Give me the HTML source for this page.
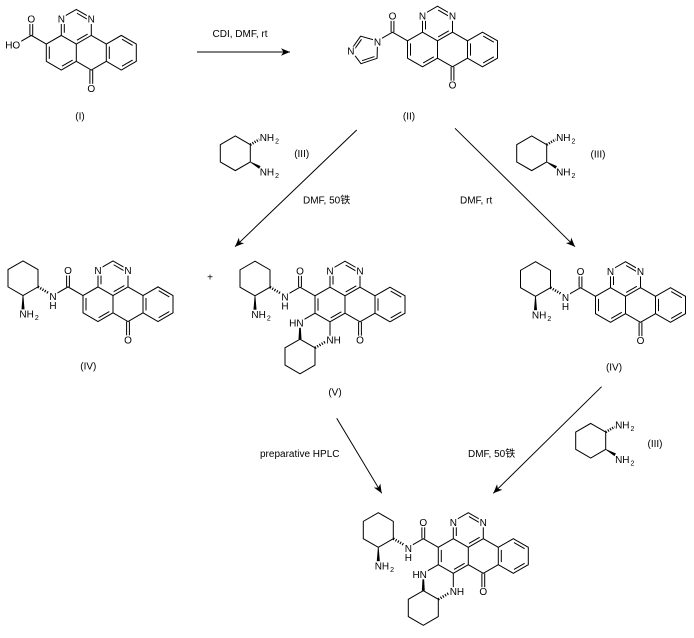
<!DOCTYPE html>
<html><head><meta charset="utf-8">
<style>
html,body{margin:0;padding:0;background:#fff}
svg{display:block}
text{font-family:"Liberation Sans","Noto Sans CJK SC",sans-serif;font-size:10px;fill:#000}
</style></head>
<body>
<svg width="694" height="638" viewBox="0 0 694 638" xmlns="http://www.w3.org/2000/svg">
<defs>
<marker id="ah" markerUnits="userSpaceOnUse" markerWidth="12" markerHeight="12" viewBox="-10 -6 12 12" refX="0" refY="0" orient="auto">
<path d="M0,0 L-9,-3.8 L-6.5,0 L-9,3.8 Z" fill="#000"/>
</marker>
<g id="core" fill="none" stroke="#000" stroke-width="1">
<path d="M0,-17.32 L15,-8.66 L15,8.66 L0,17.32 L-15,8.66 L-15,-8.66 Z M0,-17.32 L0,-34.64 L15,-43.3 L30,-34.64 L30,-17.32 L15,-8.66 M30,-17.32 L45,-8.66 L45,8.66 L30,17.32 L15,8.66 M45,-8.66 L60,-17.32 L75,-8.66 L75,8.66 L60,17.32 L45,8.66 M28.6,17.32 L28.6,34.64 M31.4,17.32 L31.4,34.64 M-15,-8.66 L-30,-17.32 L-45,-8.66 M-31.4,-17.32 L-31.4,-34.64 M-28.6,-17.32 L-28.6,-34.64 M3,-20 L3,-32 M15.67,-39.45 L26.33,-33.29 M26.33,-18.67 L15.67,-12.51 M11.33,7.31 L0.67,13.47 M-12,6.16 L-12,-6.16 M48,-6.16 L48,6.16 M60.67,-13.47 L71.33,-7.31 M71.33,7.31 L60.67,13.47"/>
</g>
<g id="r1">
<path d="M-75,-43.3 L-60,-34.64 L-60,-17.32 L-75,-8.66 L-90,-17.32 L-90,-34.64 Z" fill="none" stroke="#000" stroke-width="1"/>
<line x1="-60" y1="-17.32" x2="-49.5" y2="-11.26" stroke="#000" stroke-width="2.6" stroke-dasharray="1.1 1.5"/>
<polygon points="-75.4,-8.66 -74.6,-8.66 -73.4,6 -76.6,6" fill="#000"/>
</g>
<g id="r2">
<path d="M-30,34.64 L-15,43.3 L-15,60.62 L-30,69.28 L-45,60.62 L-45,43.3 Z M-15,8.66 L-30,17.32 M0,17.32 L0,34.64" fill="none" stroke="#000" stroke-width="1"/>
<polygon points="-31.5,34.64 -28.5,34.64 -29.4,20 -30.6,20" fill="#000"/>
<line x1="-15" y1="43.3" x2="-3.5" y2="36.66" stroke="#000" stroke-width="2.6" stroke-dasharray="1.1 1.5"/>
</g>
<g id="cm" fill="#fff">
<rect x="-4.5" y="-38.14" width="9" height="9.5"/>
<rect x="25.5" y="-38.14" width="9" height="9.5"/>
<rect x="25.5" y="31.14" width="9" height="9.5"/>
<rect x="-34.5" y="-38.14" width="9" height="9.5"/>
<rect x="-49.5" y="-12.16" width="9" height="9.5"/>
</g>
<g id="r1m" fill="#fff"><rect x="-79.5" y="5.16" width="9" height="9.5"/></g>
<g id="r2m" fill="#fff">
<rect x="-34.5" y="13.82" width="9" height="9.5"/>
<rect x="-4.5" y="31.14" width="9" height="9.5"/>
</g>
<g id="dia">
<path d="M0,-17.32 L15,-8.66 L15,8.66 L0,17.32 L-15,8.66 L-15,-8.66 Z" fill="none" stroke="#000" stroke-width="1"/>
<line x1="15" y1="-8.66" x2="24" y2="-13.86" stroke="#000" stroke-width="2.6" stroke-dasharray="1.1 1.4"/>
<polygon points="14.85,8.92 15.15,8.4 25.25,12.8 23.75,15.4" fill="#000"/>
</g>
</defs>

<!-- Arrows -->
<g stroke="#000" stroke-width="1" fill="none">
<line x1="197" y1="52" x2="290" y2="52" marker-end="url(#ah)"/>
<line x1="356.7" y1="130" x2="235" y2="246.7" marker-end="url(#ah)"/>
<line x1="455" y1="128.3" x2="575" y2="246.7" marker-end="url(#ah)"/>
<line x1="336.7" y1="418.3" x2="381.7" y2="493.3" marker-end="url(#ah)"/>
<line x1="601.6" y1="386.7" x2="493.3" y2="493.3" marker-end="url(#ah)"/>
</g>

<!-- Reagent texts -->
<text x="240" y="37" text-anchor="middle">CDI, DMF, rt</text>
<text x="303" y="203.6">DMF, 50铁</text>
<text x="460" y="203.6">DMF, rt</text>
<text x="260" y="457">preparative HPLC</text>
<text x="468" y="457">DMF, 50铁</text>
<text x="210" y="280.6" text-anchor="middle">+</text>

<!-- Compound labels -->
<text x="80" y="119.6" text-anchor="middle">(I)</text>
<text x="409" y="119.6" text-anchor="middle">(II)</text>
<text x="301.7" y="157" text-anchor="middle">(III)</text>
<text x="598" y="157.6" text-anchor="middle">(III)</text>
<text x="655" y="447" text-anchor="middle">(III)</text>
<text x="88.3" y="369.6" text-anchor="middle">(IV)</text>
<text x="614" y="370.3" text-anchor="middle">(IV)</text>
<text x="335" y="395.3" text-anchor="middle">(V)</text>

<!-- (III) diamines -->
<g transform="translate(235.3,153.3)">
<use href="#dia"/>
<text x="24.4" y="-12.4">NH<tspan font-size="7" dx="1" dy="2.5">2</tspan></text>
<text x="24.4" y="22.1">NH<tspan font-size="7" dx="1" dy="2.5">2</tspan></text>
</g>
<g transform="translate(531.7,153.3)">
<use href="#dia"/>
<text x="24.4" y="-12.4">NH<tspan font-size="7" dx="1" dy="2.5">2</tspan></text>
<text x="24.4" y="22.1">NH<tspan font-size="7" dx="1" dy="2.5">2</tspan></text>
</g>
<g transform="translate(590.7,440.7)">
<use href="#dia"/>
<text x="24.4" y="-12.4">NH<tspan font-size="7" dx="1" dy="2.5">2</tspan></text>
<text x="24.4" y="22.1">NH<tspan font-size="7" dx="1" dy="2.5">2</tspan></text>
</g>

<!-- Molecule I -->
<g transform="translate(61.3,52.7)">
<use href="#core"/>
<use href="#cm"/>
<rect x="-58" y="-12.16" width="18" height="9.5" fill="#fff"/>
<text x="0" y="-30.04" text-anchor="middle">N</text>
<text x="30" y="-30.04" text-anchor="middle">N</text>
<text x="30" y="39.24" text-anchor="middle">O</text>
<text x="-30" y="-30.04" text-anchor="middle">O</text>
<text x="-41.1" y="-4.06" text-anchor="end">HO</text>
</g>

<!-- Molecule II -->
<g transform="translate(422.5,49.5)">
<use href="#core"/>
<path d="M-45,-8.66 L-45.4,8.8 L-61.5,14.2 L-71.7,0.6 L-61.9,-13.3 Z M-61,-10.22 L-68.5,0.4 M-60.4,11.19 L-48.1,7.07" fill="none" stroke="#000" stroke-width="1"/>
<use href="#cm"/>
<rect x="-76.2" y="-2.9" width="9" height="9.5" fill="#fff"/>
<text x="0" y="-30.04" text-anchor="middle">N</text>
<text x="30" y="-30.04" text-anchor="middle">N</text>
<text x="30" y="39.24" text-anchor="middle">O</text>
<text x="-30" y="-30.04" text-anchor="middle">O</text>
<text x="-45" y="-4.06" text-anchor="middle">N</text>
<text x="-71.7" y="5.2" text-anchor="middle">N</text>
</g>

<!-- Molecule IV left -->
<g transform="translate(98,304.2)">
<use href="#core"/>
<use href="#r1"/>
<use href="#cm"/>
<use href="#r1m"/>
<text x="0" y="-30.04" text-anchor="middle">N</text>
<text x="30" y="-30.04" text-anchor="middle">N</text>
<text x="30" y="39.24" text-anchor="middle">O</text>
<text x="-30" y="-30.04" text-anchor="middle">O</text>
<text x="-45" y="-4.06" text-anchor="middle">N</text>
<text x="-45" y="4.94" text-anchor="middle">H</text>
<text x="-78.6" y="13.26">NH<tspan font-size="7" dx="1" dy="2.5">2</tspan></text>
</g>

<!-- Molecule IV right -->
<g transform="translate(610.5,305)">
<use href="#core"/>
<use href="#r1"/>
<use href="#cm"/>
<use href="#r1m"/>
<text x="0" y="-30.04" text-anchor="middle">N</text>
<text x="30" y="-30.04" text-anchor="middle">N</text>
<text x="30" y="39.24" text-anchor="middle">O</text>
<text x="-30" y="-30.04" text-anchor="middle">O</text>
<text x="-45" y="-4.06" text-anchor="middle">N</text>
<text x="-45" y="4.94" text-anchor="middle">H</text>
<text x="-78.6" y="13.26">NH<tspan font-size="7" dx="1" dy="2.5">2</tspan></text>
</g>

<!-- Molecule V -->
<g transform="translate(330,304.5)">
<use href="#core"/>
<use href="#r1"/>
<use href="#r2"/>
<use href="#cm"/>
<use href="#r1m"/>
<use href="#r2m"/>
<text x="0" y="-30.04" text-anchor="middle">N</text>
<text x="30" y="-30.04" text-anchor="middle">N</text>
<text x="30" y="39.24" text-anchor="middle">O</text>
<text x="-30" y="-30.04" text-anchor="middle">O</text>
<text x="-45" y="-4.06" text-anchor="middle">N</text>
<text x="-45" y="4.94" text-anchor="middle">H</text>
<text x="-78.6" y="13.26">NH<tspan font-size="7" dx="1" dy="2.5">2</tspan></text>
<text x="-26.4" y="21.92" text-anchor="end">HN</text>
<text x="-3.6" y="39.24">NH</text>
</g>

<!-- Final product -->
<g transform="translate(453.3,556)">
<use href="#core"/>
<use href="#r1"/>
<use href="#r2"/>
<use href="#cm"/>
<use href="#r1m"/>
<use href="#r2m"/>
<text x="0" y="-30.04" text-anchor="middle">N</text>
<text x="30" y="-30.04" text-anchor="middle">N</text>
<text x="30" y="39.24" text-anchor="middle">O</text>
<text x="-30" y="-30.04" text-anchor="middle">O</text>
<text x="-45" y="-4.06" text-anchor="middle">N</text>
<text x="-45" y="4.94" text-anchor="middle">H</text>
<text x="-78.6" y="13.26">NH<tspan font-size="7" dx="1" dy="2.5">2</tspan></text>
<text x="-26.4" y="21.92" text-anchor="end">HN</text>
<text x="-3.6" y="39.24">NH</text>
</g>
</svg>
</body></html>
